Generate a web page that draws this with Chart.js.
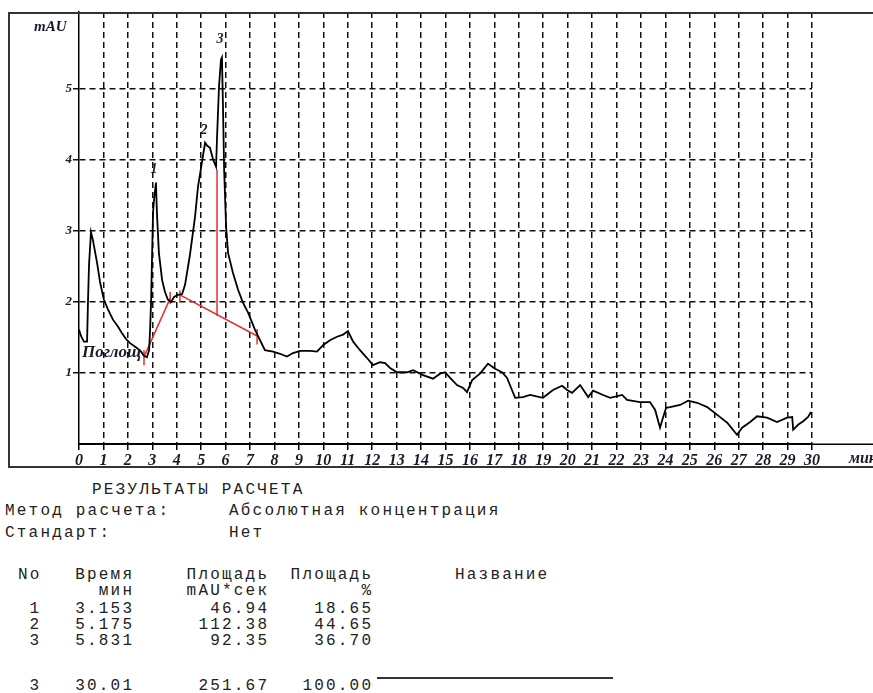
<!DOCTYPE html>
<html><head><meta charset="utf-8">
<script src="https://cdn.jsdelivr.net/npm/chart.js@4.4.1/dist/chart.umd.min.js"></script>
<style>
html,body{margin:0;padding:0;background:#fff;width:873px;height:693px;overflow:hidden;position:relative;}
#wrap{position:absolute;left:0;top:0;width:873px;height:470px;}
.t{position:absolute;font-family:"Liberation Mono",monospace;font-size:16px;letter-spacing:2.2px;color:#222;white-space:pre;line-height:16px;}
.r{text-align:right;}
#rule{position:absolute;left:377px;width:236px;top:677px;height:0;border-top:2px solid #333;}
</style></head><body>
<div id="wrap"><canvas id="c" width="873" height="470"></canvas></div>
<div id="tbl"></div>
<div id="rule"></div>
<script>
// Chromatogram (time, min ; signal, mAU)
const timeMin = [0,0.08,0.20,0.33,0.37,0.41,0.49,0.57,0.74,0.86,1.02,1.19,1.39,1.60,1.76,1.92,2.09,2.37,2.54,2.66,2.78,2.87,2.91,2.95,2.99,3.03,3.07,3.15,3.19,3.27,3.40,3.52,3.64,3.77,3.89,4.05,4.22,4.34,4.54,4.75,4.87,5.03,5.16,5.24,5.36,5.49,5.61,5.65,5.73,5.81,5.85,5.89,5.94,6.02,6.10,6.30,6.51,6.71,6.92,7.20,7.41,7.61,7.94,8.23,8.51,8.76,9.05,9.46,9.74,9.99,10.27,10.56,10.81,11.01,11.22,11.50,11.79,12.03,12.32,12.53,12.73,13.02,13.43,13.67,14.08,14.49,14.78,14.98,15.19,15.47,15.72,15.88,16.09,16.41,16.74,17.03,17.31,17.52,17.72,17.85,18.17,18.46,18.99,19.40,19.77,19.98,20.18,20.51,20.84,21.04,21.45,21.74,22.23,22.43,22.96,23.37,23.58,23.78,23.90,24.03,24.19,24.60,24.93,25.30,25.71,26.12,26.53,26.93,27.14,27.47,27.75,28.16,28.57,28.98,29.19,29.23,29.43,29.64,29.84,29.96];
const signalMAU = [1.61,1.52,1.44,1.44,2.03,2.52,2.98,2.87,2.55,2.28,2.03,1.89,1.75,1.65,1.56,1.48,1.42,1.35,1.30,1.24,1.22,1.32,1.61,2.00,2.64,3.25,3.44,3.68,3.25,2.69,2.31,2.14,2.03,2.00,2.07,2.10,2.11,2.24,2.66,3.20,3.62,3.96,4.24,4.20,4.17,4.00,3.90,4.32,5.03,5.41,5.44,4.80,3.86,3.06,2.69,2.41,2.17,1.99,1.85,1.61,1.46,1.32,1.30,1.27,1.23,1.28,1.31,1.31,1.30,1.39,1.46,1.51,1.54,1.59,1.44,1.32,1.21,1.11,1.15,1.14,1.07,1.01,1.01,1.04,0.97,0.92,0.99,1.01,0.93,0.83,0.79,0.73,0.90,0.99,1.13,1.06,1.01,0.93,0.76,0.65,0.66,0.69,0.65,0.76,0.82,0.76,0.72,0.83,0.66,0.75,0.69,0.65,0.69,0.62,0.59,0.59,0.48,0.23,0.37,0.51,0.52,0.55,0.61,0.58,0.52,0.41,0.30,0.13,0.23,0.31,0.39,0.37,0.31,0.37,0.38,0.20,0.27,0.32,0.38,0.45];

// Baseline / drop lines (red)
const cutStartT = [2.68, 4.13, 5.65, 2.66, 3.73, 4.13, 7.29];
const cutStartV = [1.24, 2.10, 1.80, 1.11, 1.97, 1.99, 1.40];
const cutEndT   = [3.73, 7.29, 5.65, 2.66, 3.73, 4.13, 7.29];
const cutEndV   = [2.05, 1.52, 3.86, 1.32, 2.14, 2.16, 1.62];

// Peak labels
const peakNames  = ['1', '2', '3'];
const peakLabelT = [3.07, 5.12, 5.77];
const peakLabelV = [3.86, 4.42, 5.70];

// Axis ticks
const xTicks = [0,1,2,3,4,5,6,7,8,9,10,11,12,13,14,15,16,17,18,19,20,21,22,23,24,25,26,27,28,29,30];
const yTicks = [0,1,2,3,4,5];

// Results table
const tblNo    = ['1', '2', '3'];
const tblTime  = ['3.153', '5.175', '5.831'];
const tblArea  = ['46.94', '112.38', '92.35'];
const tblPct   = ['18.65', '44.65', '36.70'];
const totNo = '3', totTime = '30.01', totArea = '251.67', totPct = '100.00';

const serif = '"Liberation Serif", "Times New Roman", serif';
const curveData = timeMin.map((t, i) => ({x: t, y: signalMAU[i]}));
const datasets = [{
  data: curveData, borderColor: '#000', borderWidth: 1.8, pointRadius: 0, tension: 0, fill: false
}];
for (let i = 0; i < cutStartT.length; i++) {
  datasets.push({
    data: [{x: cutStartT[i], y: cutStartV[i]}, {x: cutEndT[i], y: cutEndV[i]}],
    borderColor: '#e0302c', borderWidth: 1.5, pointRadius: 0, tension: 0, fill: false
  });
}

const decor = {
  id: 'decor',
  afterDatasetsDraw(chart) {
    const {ctx, scales: {x, y}} = chart;
    ctx.save();
    ctx.fillStyle = '#1a1a2a';
    ctx.textBaseline = 'middle';
    ctx.textAlign = 'center';
    ctx.font = 'italic bold 14px ' + serif;
    for (let i = 0; i < peakNames.length; i++) {
      ctx.fillText(peakNames[i], x.getPixelForValue(peakLabelT[i]), y.getPixelForValue(peakLabelV[i]));
    }
    ctx.textAlign = 'left';
    ctx.font = 'italic bold 17px ' + serif;
    ctx.fillText('Поглощ', 82, 353);
    ctx.restore();
  },
  afterDraw(chart) {
    const {ctx, chartArea: a} = chart;
    ctx.save();
    ctx.strokeStyle = '#333';
    ctx.lineWidth = 2;
    ctx.strokeRect(9, 13, 900, 454);
    ctx.strokeStyle = '#000';
    ctx.lineWidth = 1.5;
    ctx.beginPath();
    ctx.moveTo(a.left, Math.round(a.bottom) + 0.25);
    ctx.lineTo(873, Math.round(a.bottom) + 0.25);
    ctx.stroke();
    ctx.fillStyle = '#1a1a2a';
    ctx.textBaseline = 'middle';
    ctx.textAlign = 'left';
    ctx.font = 'italic bold 15px ' + serif;
    ctx.fillText('mAU', 34, 27);
    ctx.font = 'italic bold 16px ' + serif;
    ctx.fillText('мин', 849, 459);
    ctx.restore();
  }
};

const gridCol = c => (c.tick && c.tick.value > 0) ? '#111' : 'rgba(0,0,0,0)';

new Chart(document.getElementById('c'), {
  type: 'line',
  data: {datasets},
  plugins: [decor],
  options: {
    responsive: false, animation: false, devicePixelRatio: 1,
    layout: {padding: {top: 12, right: 61, left: 0, bottom: 0}},
    plugins: {legend: {display: false}, tooltip: {enabled: false}},
    scales: {
      x: {
        type: 'linear', min: 0, max: 30,
        afterBuildTicks: s => { s.ticks = xTicks.map(v => ({value: v})); },
        afterFit: s => { s.height = 26; },
        grid: {color: gridCol, lineWidth: 1.5, tickColor: '#000', tickLength: 6, tickWidth: 1.5},
        border: {display: true, color: '#000', width: 1.5, dash: [6, 4]},
        ticks: {autoSkip: false, maxRotation: 0, padding: 1, color: '#1a1a2a',
          font: {family: serif, style: 'italic', weight: 'bold', size: 16},
          callback: v => String(v)}
      },
      y: {
        type: 'linear', min: 0, max: 6.08,
        afterBuildTicks: s => { s.ticks = yTicks.map(v => ({value: v})); },
        afterFit: s => { s.width = 79; },
        grid: {color: gridCol, lineWidth: 1.5, tickColor: gridCol, tickLength: 6, tickWidth: 1.5},
        border: {display: true, color: '#000', width: 1.5, dash: [6, 4]},
        ticks: {padding: 1, color: '#1a1a2a',
          font: {family: serif, style: 'italic', weight: 'bold', size: 13},
          callback: v => v > 0 ? String(v) : ''}
      }
    }
  }
});

// Table text
const tbl = document.getElementById('tbl');
function put(text, x, yc, right) {
  const d = document.createElement('div');
  d.className = 't' + (right ? ' r' : '');
  d.textContent = text;
  d.style.top = (yc - 8) + 'px';
  if (right) { d.style.right = (873 - x - 2.2) + 'px'; } else { d.style.left = x + 'px'; }
  tbl.appendChild(d);
}
put('РЕЗУЛЬТАТЫ РАСЧЕТА', 92, 490);
put('Метод расчета:', 5, 511);
put('Абсолютная концентрация', 229, 511);
put('Стандарт:', 5, 533);
put('Нет', 229, 533);
put('No', 18, 575);
put('Время', 132, 575, true);
put('Площадь', 267, 575, true);
put('Площадь', 371, 575, true);
put('Название', 455, 575);
put('мин', 132, 591, true);
put('mAU*сек', 267, 591, true);
put('%', 371, 591, true);
const rowY = [609, 625, 641];
for (let i = 0; i < tblNo.length; i++) {
  put(tblNo[i], 39, rowY[i], true);
  put(tblTime[i], 132, rowY[i], true);
  put(tblArea[i], 267, rowY[i], true);
  put(tblPct[i], 371, rowY[i], true);
}
put(totNo, 39, 686, true);
put(totTime, 132, 686, true);
put(totArea, 267, 686, true);
put(totPct, 371, 686, true);
</script>
</body></html>
